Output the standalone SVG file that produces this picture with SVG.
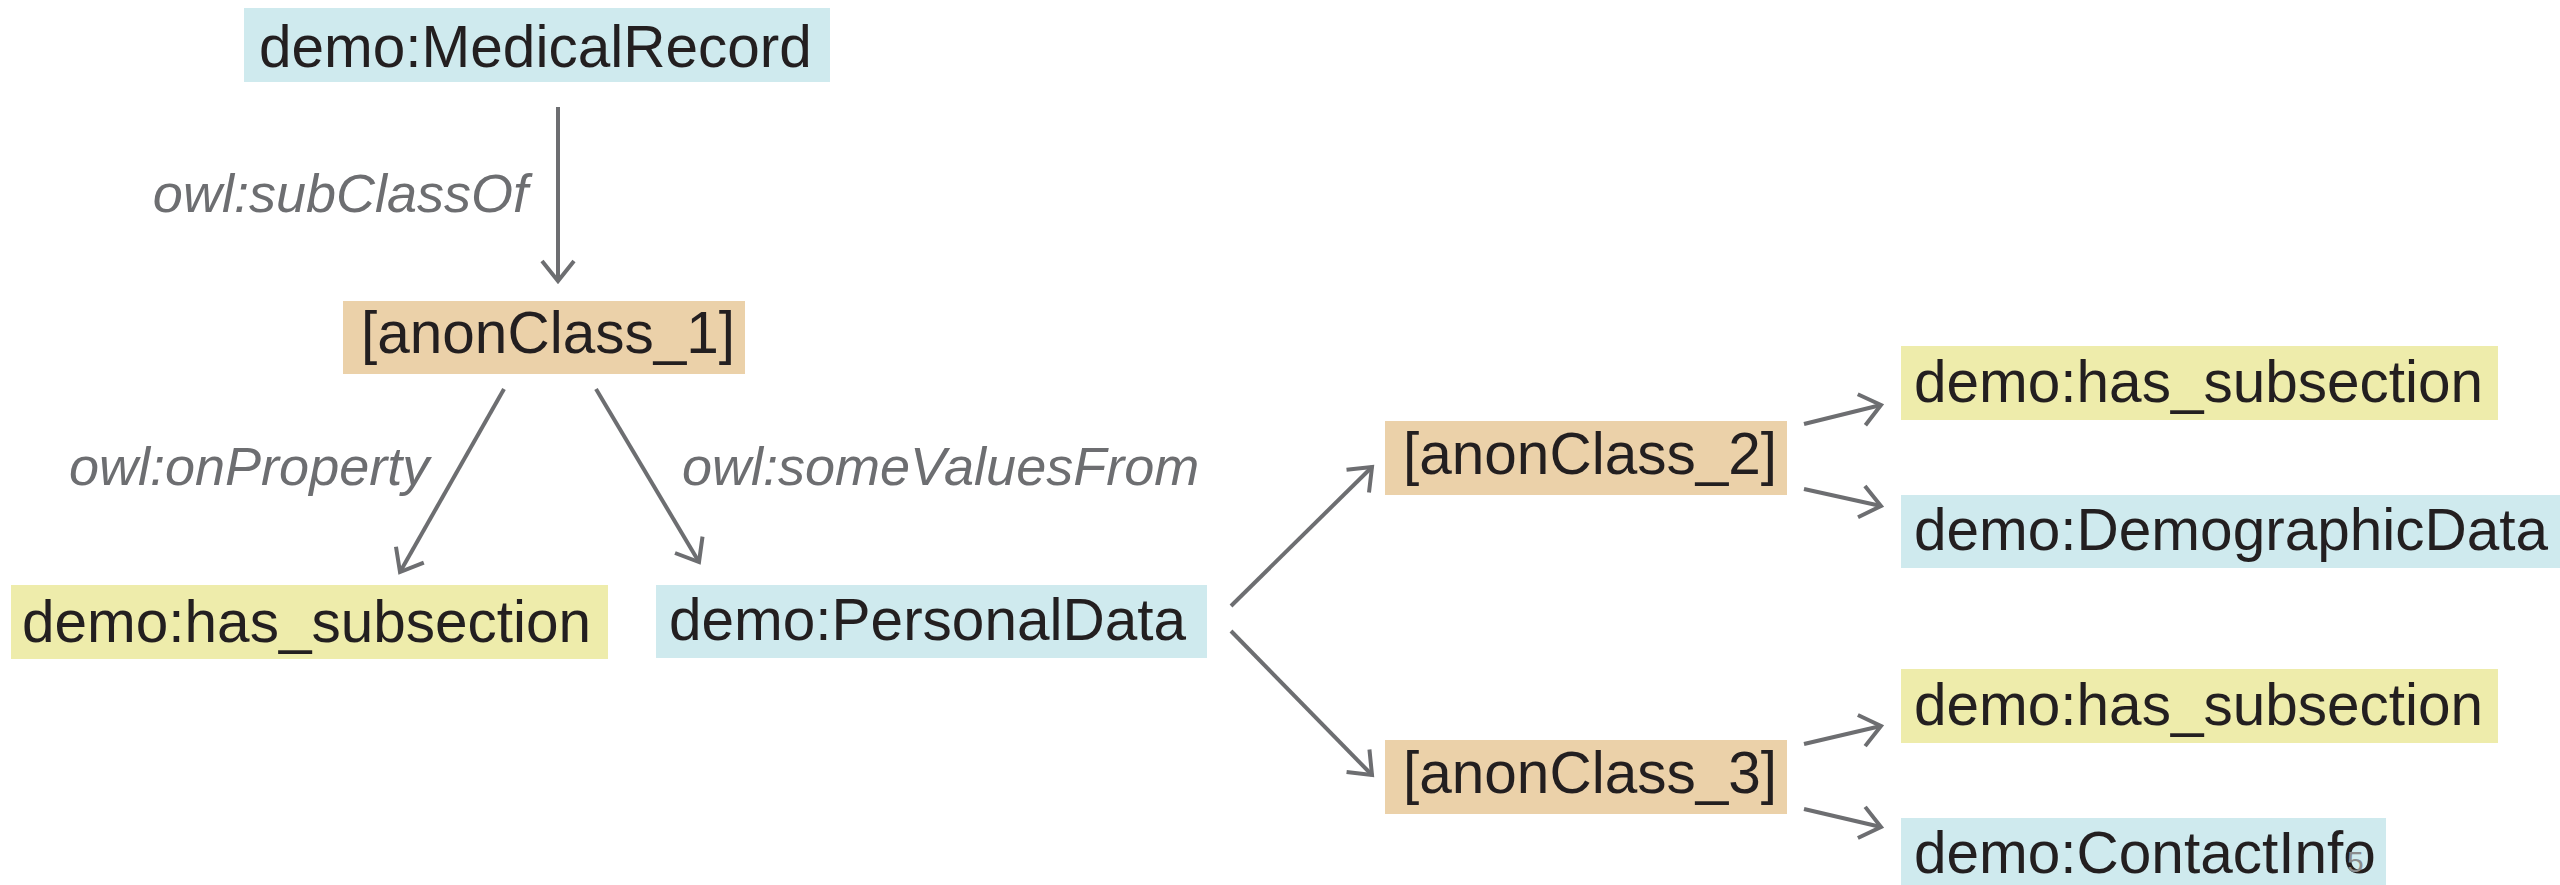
<svg xmlns="http://www.w3.org/2000/svg" width="2560" height="885" viewBox="0 0 2560 885">
  <style>
    .node { font-family: "Liberation Sans", Arial, Helvetica, sans-serif; font-size: 58.5px; fill: #231f20; }
    .lbl { font-family: "Liberation Sans", Arial, Helvetica, sans-serif; font-size: 54px; font-style: italic; fill: #6d6e71; }
    .blue { fill: #cfeaee; }
    .yellow { fill: #eeecab; }
    .tan { fill: #ebd1a9; }
    .edge { stroke: #6d6e71; stroke-width: 4; fill: none; marker-end: url(#arr); }
  </style>
  <defs>
    <marker id="arr" markerUnits="userSpaceOnUse" markerWidth="44" markerHeight="44" viewBox="-24 -22 28 44" refX="0" refY="0" orient="auto">
      <path d="M -20 -16 L 0 0 L -20 16" fill="none" stroke="#6d6e71" stroke-width="4"/>
    </marker>
  </defs>
  <rect width="2560" height="885" fill="#ffffff"/>

  <g id="connectors">
    <line class="edge" x1="558" y1="107" x2="558" y2="281"/>
    <line class="edge" x1="504" y1="389" x2="400" y2="572"/>
    <line class="edge" x1="596" y1="389" x2="699" y2="562"/>
    <line class="edge" x1="1231" y1="606" x2="1372" y2="467"/>
    <line class="edge" x1="1231" y1="631" x2="1372" y2="775"/>
    <line class="edge" x1="1804" y1="424" x2="1881" y2="405"/>
    <line class="edge" x1="1804" y1="489" x2="1881" y2="506"/>
    <line class="edge" x1="1804" y1="744" x2="1881" y2="726"/>
    <line class="edge" x1="1804" y1="809" x2="1881" y2="827"/>
  </g>

  <g id="edge-labels">
    <text class="lbl" x="528" y="212" text-anchor="end">owl:subClassOf</text>
    <text class="lbl" x="69" y="485">owl:onProperty</text>
    <text class="lbl" x="682" y="485">owl:someValuesFrom</text>
  </g>

  <g id="medicalRecord">
    <rect class="blue" x="244" y="8" width="586" height="74"/>
    <text class="node" x="259" y="67">demo:MedicalRecord</text>
  </g>
  <g id="anonClass1">
    <rect class="tan" x="343" y="301" width="402" height="73"/>
    <text class="node" x="361" y="353">[anonClass_1]</text>
  </g>
  <g id="hasSubsection1">
    <rect class="yellow" x="11" y="585" width="597" height="74"/>
    <text class="node" x="22" y="642">demo:has_subsection</text>
  </g>
  <g id="personalData">
    <rect class="blue" x="656" y="585" width="551" height="73"/>
    <text class="node" x="669" y="640">demo:PersonalData</text>
  </g>
  <g id="anonClass2">
    <rect class="tan" x="1385" y="421" width="402" height="74"/>
    <text class="node" x="1403" y="474">[anonClass_2]</text>
  </g>
  <g id="anonClass3">
    <rect class="tan" x="1385" y="740" width="402" height="74"/>
    <text class="node" x="1403" y="793">[anonClass_3]</text>
  </g>
  <g id="hasSubsection2">
    <rect class="yellow" x="1901" y="346" width="597" height="74"/>
    <text class="node" x="1914" y="402">demo:has_subsection</text>
  </g>
  <g id="demographicData">
    <rect class="blue" x="1901" y="495" width="659" height="73"/>
    <text class="node" x="1914" y="550">demo:DemographicData</text>
  </g>
  <g id="hasSubsection3">
    <rect class="yellow" x="1901" y="669" width="597" height="74"/>
    <text class="node" x="1914" y="725">demo:has_subsection</text>
  </g>
  <g id="contactInfo">
    <rect class="blue" x="1901" y="818" width="485" height="67"/>
    <text class="node" x="1914" y="873">demo:ContactInfo</text>
  </g>
  <text x="2347" y="872" font-family="'Liberation Sans', Arial, sans-serif" font-size="30" fill="#8a8b8d">5</text>
</svg>
